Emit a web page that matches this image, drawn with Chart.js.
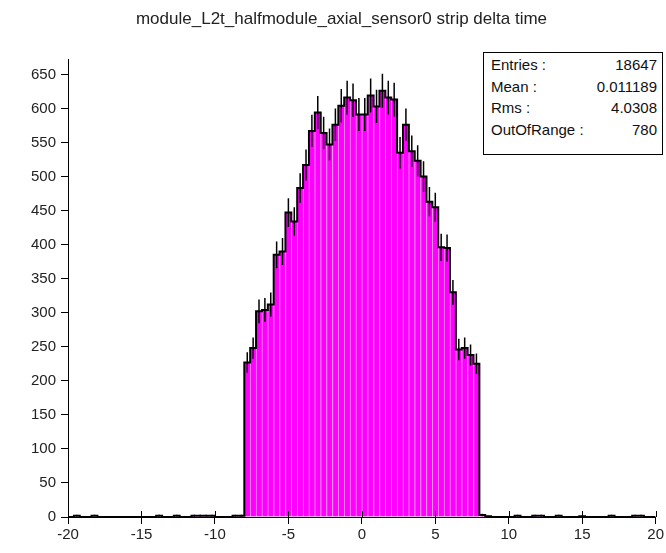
<!DOCTYPE html>
<html lang="en">
<head>
    <meta charset="UTF-8">
    <title>strip delta time</title>
    <script src="https://cdn.jsdelivr.net/npm/chart.js"></script>
    <style>
        body { margin: 0; padding: 0; background: #fff; overflow: hidden; font-family: "Liberation Sans", Arial, sans-serif; }
        .wrap { position: relative; width: 666px; height: 553px; }
        #stats { position: absolute; left: 483px; top: 52px; width: 180px; height: 103px; border: 1px solid #000; background: #fff; box-sizing: border-box; padding: 1px 5px 0 7px; font-size: 15px; color: #111; }
        #stats div { display: flex; justify-content: space-between; height: 21.5px; line-height: 21.5px; }
    </style>
</head>
<body>
    <div class="wrap">
        <canvas id="chart" width="666" height="553"></canvas>
        <div id="stats">
            <div><span>Entries :</span><span>18647</span></div>
            <div><span>Mean :</span><span>0.011189</span></div>
            <div><span>Rms :</span><span>4.0308</span></div>
            <div><span>OutOfRange :</span><span>780</span></div>
        </div>
    </div>

    <script>
        // histogram: 100 bins of 0.4 from -20 to 20
        const binLow = -20;
        const binWidth = 0.4;

        // -20 .. -8
        const leftTail = [0, 2, 0, 0, 2, 0, 0, 0, 0, 0,
                          0, 0, 0, 0, 0, 2, 0, 0, 2, 0,
                          0, 2, 2, 2, 2, 0, 0, 0, 2, 2];
        // -8 .. 8
        const core = [227, 248, 302, 304, 312, 385, 390, 447, 434, 483,
                      517, 567, 594, 564, 547, 576, 604, 616, 612, 591,
                      591, 619, 603, 626, 616, 613, 535, 576, 537, 523,
                      500, 463, 455, 396, 395, 330, 246, 248, 238, 225];
        // 8 .. 20
        const rightTail = [3, 1, 0, 0, 0, 0, 2, 0, 0, 2,
                           2, 0, 0, 2, 0, 0, 0, 1, 0, 0,
                           0, 0, 2, 0, 0, 0, 2, 2, 0, 0];

        const xTicks = [-20, -15, -10, -5, 0, 5, 10, 15, 20];
        const yTicks = [0, 50, 100, 150, 200, 250, 300, 350, 400, 450, 500, 550, 600, 650];

        const counts = leftTail.concat(core, rightTail);

        const fillData = [];
        const stepData = [];
        const errData = [];
        counts.forEach((n, i) => {
            const lo = binLow + i * binWidth;
            const c = lo + binWidth / 2;
            fillData.push({ x: c, y: n });
            stepData.push({ x: lo, y: n });
            if (n > 0) {
                const e = Math.sqrt(n);
                errData.push({ x: c, y: n - e }, { x: c, y: n + e }, { x: c, y: null });
            }
        });
        stepData.push({ x: binLow + counts.length * binWidth, y: counts[counts.length - 1] });

        const tickFont = { family: '"Liberation Sans", Arial, sans-serif', size: 15 };

        // x ticks cross the axis line: draw the inner half too
        const innerTicks = {
            id: 'innerTicks',
            afterDatasetsDraw(chart) {
                const ctx = chart.ctx;
                const x = chart.scales.x;
                const bottom = chart.chartArea.bottom;
                ctx.save();
                ctx.strokeStyle = '#000';
                ctx.lineWidth = 1;
                ctx.beginPath();
                xTicks.forEach(v => {
                    const px = Math.round(x.getPixelForValue(v)) + 0.5;
                    ctx.moveTo(px, bottom - 6);
                    ctx.lineTo(px, bottom);
                });
                ctx.stroke();
                ctx.restore();
            }
        };

        new Chart(document.getElementById('chart'), {
            data: {
                datasets: [
                    {
                        type: 'line',
                        data: errData,
                        borderColor: '#000',
                        borderWidth: 1.5,
                        pointRadius: 0,
                        spanGaps: false,
                        order: 1
                    },
                    {
                        type: 'line',
                        data: stepData,
                        stepped: 'before',
                        borderColor: '#000',
                        borderWidth: 2,
                        pointRadius: 0,
                        order: 2
                    },
                    {
                        type: 'bar',
                        data: fillData,
                        backgroundColor: '#ff00ff',
                        borderColor: '#ff8cff',
                        borderWidth: { left: 1, right: 0, top: 0, bottom: 0 },
                        borderSkipped: false,
                        barPercentage: 1,
                        categoryPercentage: 1,
                        order: 3
                    }
                ]
            },
            plugins: [innerTicks],
            options: {
                responsive: false,
                animation: false,
                layout: { padding: { left: 26, right: 9, top: 0, bottom: 7 } },
                plugins: {
                    legend: { display: false },
                    tooltip: { enabled: false },
                    title: {
                        display: true,
                        text: 'module_L2t_halfmodule_axial_sensor0 strip delta time',
                        color: '#222',
                        font: { family: '"Liberation Sans", Arial, sans-serif', size: 17, weight: 'normal' },
                        padding: { top: 9, bottom: 30 }
                    }
                },
                scales: {
                    x: {
                        type: 'linear',
                        offset: false,
                        min: -20,
                        max: 20,
                        afterBuildTicks: s => { s.ticks = xTicks.map(v => ({ value: v })); },
                        ticks: { color: '#222', font: tickFont, padding: 2 },
                        grid: { display: true, offset: false, drawOnChartArea: false, drawTicks: true, tickLength: 7, color: '#000' },
                        border: { display: true, color: '#000', width: 1 }
                    },
                    y: {
                        min: 0,
                        max: 672,
                        afterBuildTicks: s => { s.ticks = yTicks.map(v => ({ value: v })); },
                        ticks: { color: '#222', font: tickFont, padding: 5 },
                        grid: { display: true, drawOnChartArea: false, drawTicks: true, tickLength: 7, color: '#000' },
                        border: { display: true, color: '#000', width: 1 }
                    }
                }
            }
        });
    </script>
</body>
</html>
